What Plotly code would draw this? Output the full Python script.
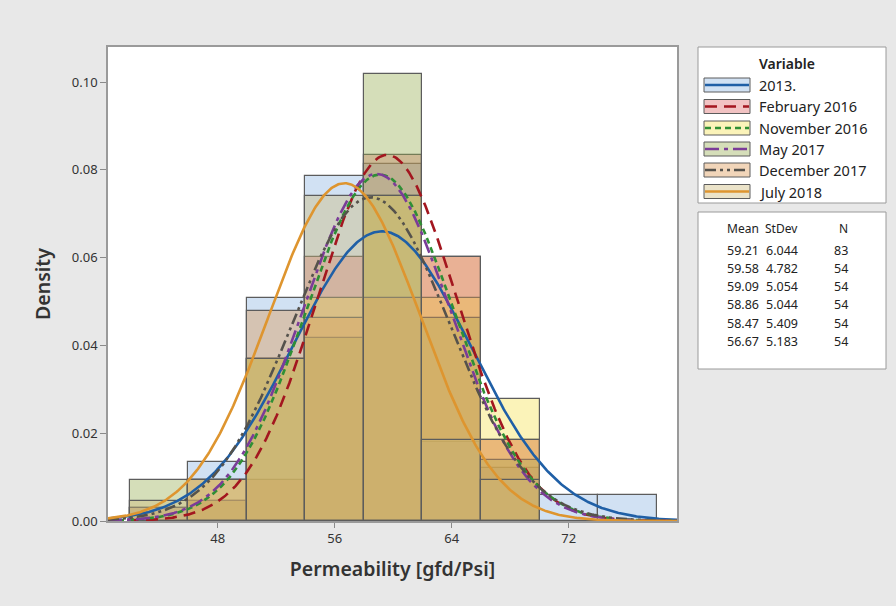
import numpy as np
import plotly.graph_objects as go

# ---- data -------------------------------------------------------------
bin_left = [42, 46, 50, 54, 58, 62, 66, 70, 74]
bin_width = 4

series = ["2013.", "February 2016", "November 2016", "May 2017",
          "December 2017", "July 2018"]
means = [59.21, 59.58, 59.09, 58.86, 58.47, 56.67]
stdevs = [6.044, 4.782, 5.054, 5.044, 5.409, 5.183]
n_obs = [83, 54, 54, 54, 54, 54]

# histogram densities per bin (42-46, 46-50, ..., 74-78)
dens_2013 = [0.0030, 0.0135, 0.0509, 0.0787, 0.0813, 0.0181, 0.0120, 0.0060, 0.0060]
dens_feb16 = [0.0, 0.0046, 0.0093, 0.0602, 0.0833, 0.0602, 0.0185, 0.0, 0.0]
dens_nov16 = [0.0, 0.0093, 0.0370, 0.0509, 0.0741, 0.0509, 0.0278, 0.0, 0.0]
dens_may17 = [0.0093, 0.0046, 0.0370, 0.0417, 0.1019, 0.0463, 0.0139, 0.0, 0.0]
dens_dec17 = [0.0030, 0.0093, 0.0478, 0.0463, 0.0509, 0.0602, 0.0185, 0.0, 0.0]
dens_jul18 = [0.0046, 0.0093, 0.0370, 0.0741, 0.0741, 0.0185, 0.0093, 0.0, 0.0]

x_ticks = [48, 56, 64, 72]
y_ticks = [0.00, 0.02, 0.04, 0.06, 0.08, 0.10]

# ---- styling ----------------------------------------------------------
fill_rgb = [(140, 180, 225), (222, 105, 105), (245, 225, 80),
            (150, 172, 80), (220, 150, 80), (205, 185, 120)]
fill_alpha = 0.40
line_colors = ["#1f5fa6", "#a3161f", "#2f8f35", "#7b3c98", "#55524c", "#de952f"]
line_dash = ["solid", "12px,7px", "6px,4px", "14px,5px,4px,5px",
             "11px,4px,3px,4px,3px,4px", "solid"]
font_family = "Noto Sans, Open Sans, sans-serif"

all_dens = [dens_2013, dens_feb16, dens_nov16, dens_may17, dens_dec17, dens_jul18]


def rgba(rgb, a):
    return "rgba(%d,%d,%d,%.2f)" % (rgb[0], rgb[1], rgb[2], a)


fig = go.Figure()
centers = [b + bin_width / 2 for b in bin_left]

for name, dens, rgb in zip(series, all_dens, fill_rgb):
    fig.add_trace(go.Bar(
        x=centers,
        y=[d if d > 0 else None for d in dens],
        width=bin_width,
        name=name,
        marker=dict(color=rgba(rgb, fill_alpha),
                    line=dict(color="#5c5c5c", width=1.2)),
        showlegend=False,
        hoverinfo="skip",
    ))

xs = np.linspace(40.5, 79.4, 500)
for name, mu, sd, col, dash in zip(series, means, stdevs, line_colors, line_dash):
    pdf = np.exp(-0.5 * ((xs - mu) / sd) ** 2) / (sd * np.sqrt(2 * np.pi))
    fig.add_trace(go.Scatter(
        x=xs, y=pdf, mode="lines", name=name,
        line=dict(color=col, width=2.6, dash=dash),
        showlegend=False, hoverinfo="skip",
    ))

# ---- custom legend & summary table (positions in pixels) -------------
PL, PR, PT, PB = 108, 677, 47, 521


def px_x(px):
    return (px - PL) / (PR - PL)


def px_y(py):
    return (PB - py) / (PB - PT)


shapes = []
annotations = []

# legend box
shapes.append(dict(type="rect", xref="paper", yref="paper",
                   x0=px_x(698), x1=px_x(886), y0=px_y(203), y1=px_y(47),
                   line=dict(color="#9a9a9a", width=1), fillcolor="white",
                   layer="below"))
annotations.append(dict(xref="paper", yref="paper", x=px_x(757), y=px_y(63),
                        text="Variable", showarrow=False, xanchor="left",
                        yanchor="middle",
                        font=dict(family=font_family, size=14, color="#222",
                                  weight=600)))
row_y = [85, 106.5, 128, 149, 170, 191.5]
for name, rgb, col, dash, ry in zip(series, fill_rgb, line_colors, line_dash, row_y):
    shapes.append(dict(type="rect", xref="paper", yref="paper",
                       x0=px_x(704), x1=px_x(750), y0=px_y(ry + 7), y1=px_y(ry - 7),
                       line=dict(color="#5c5c5c", width=1),
                       fillcolor=rgba(rgb, fill_alpha)))
    shapes.append(dict(type="line", xref="paper", yref="paper",
                       x0=px_x(705), x1=px_x(749), y0=px_y(ry), y1=px_y(ry),
                       line=dict(color=col, width=2.6, dash=dash)))
    annotations.append(dict(xref="paper", yref="paper", x=px_x(757), y=px_y(ry),
                            text=name, showarrow=False, xanchor="left",
                            yanchor="middle",
                            font=dict(family=font_family, size=14.5, color="#222")))

# summary statistics box
shapes.append(dict(type="rect", xref="paper", yref="paper",
                   x0=px_x(698), x1=px_x(886), y0=px_y(369), y1=px_y(212),
                   line=dict(color="#9a9a9a", width=1), fillcolor="white",
                   layer="below"))
col_right = [761, 800, 850]
for hdr, cx in zip(["Mean", "StDev", "N"], col_right):
    annotations.append(dict(xref="paper", yref="paper", x=px_x(cx), y=px_y(228),
                            text=hdr, showarrow=False, xanchor="right",
                            yanchor="middle",
                            font=dict(family=font_family, size=12, color="#222")))
stat_y = [250, 268, 286.5, 304.5, 323, 341]
for mu, sd, n, ry in zip(means, stdevs, n_obs, stat_y):
    for txt, cx in zip(["%.2f" % mu, "%.3f" % sd, "%d" % n], col_right):
        annotations.append(dict(xref="paper", yref="paper", x=px_x(cx), y=px_y(ry),
                                text=txt, showarrow=False, xanchor="right",
                                yanchor="middle",
                                font=dict(family=font_family, size=12.5, color="#222")))

fig.update_layout(
    width=896, height=606,
    margin=dict(l=PL, r=896 - PR, t=PT, b=606 - PB),
    paper_bgcolor="#e8e8e8",
    plot_bgcolor="white",
    barmode="overlay",
    bargap=0,
    shapes=shapes,
    annotations=annotations,
    font=dict(family=font_family, color="#333"),
    xaxis=dict(
        range=[40.5, 79.4], tickvals=x_ticks, ticks="outside", ticklen=5,
        tickcolor="#8a8a8a", showline=True, linecolor="#9a9a9a", linewidth=1.5,
        mirror=True, showgrid=False, zeroline=False,
        tickfont=dict(size=13, color="#333"),
        title=dict(text="Permeability [gfd/Psi]", standoff=16,
                   font=dict(size=19.5, color="#333", weight=600)),
    ),
    yaxis=dict(
        range=[0, 0.108], tickvals=y_ticks, tickformat=".2f", ticks="outside",
        ticklen=6, tickcolor="#8a8a8a", showline=True, linecolor="#9a9a9a",
        linewidth=1.5, mirror=True, showgrid=False, zeroline=False,
        tickfont=dict(size=13, color="#333"),
        title=dict(text="Density", standoff=16,
                   font=dict(size=19.5, color="#333", weight=600)),
    ),
)

fig.write_html("out.html")
